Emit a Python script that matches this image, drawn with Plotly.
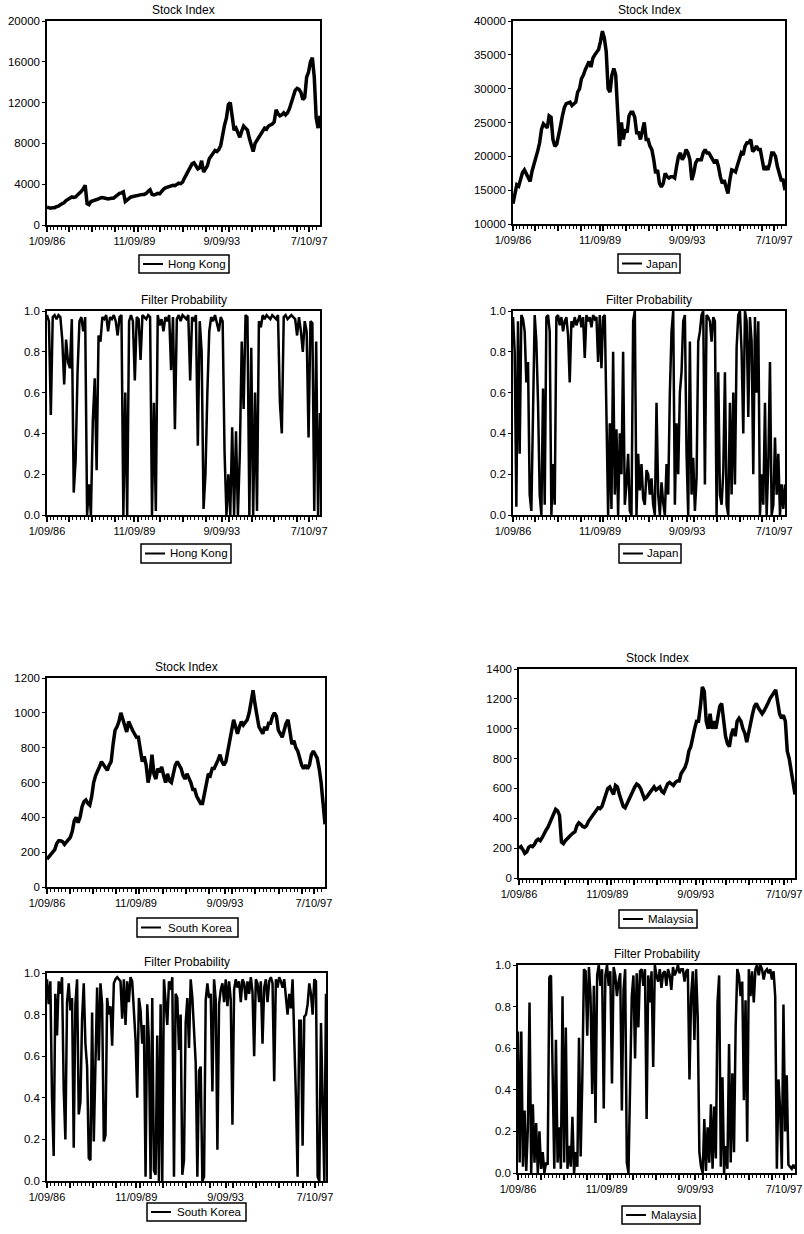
import plotly.graph_objects as go
import pandas as pd

START = "1986-01-09"
END = "1997-12-31"
W, H = 804, 1234

# ---------------- data ----------------
hong_kong_index = [
    1750, 1700, 1650, 1700, 1700, 1800, 1850, 2000, 2100, 2200, 2400, 2550,
    2600, 2750, 2700, 2750, 2950, 3100, 3300, 3550, 3900, 2100, 2000, 2300,
    2350, 2450, 2500, 2550, 2650, 2700, 2650, 2600, 2550, 2600, 2650, 2650,
    2800, 3000, 3100, 3150, 3250, 2300, 2500, 2600, 2750, 2800, 2850, 2900,
    2900, 2950, 3000, 3000, 3100, 3300, 3450, 3000, 2950, 3000, 3100, 3050,
    3300, 3500, 3650, 3700, 3750, 3800, 3900, 3850, 3950, 4100, 4050, 4200,
    4600, 5000, 5200, 5600, 6000, 6100, 5800, 5500, 5600, 6300, 5200, 5500,
    5800, 6500, 6800, 7000, 7300, 7200, 7400, 7800, 9000, 9800, 10500, 11800,
    12000, 10500, 9300, 9500, 9000, 8600, 9200, 9700, 9500, 9300, 8500, 7800,
    7200, 8000, 8300, 8600, 9000, 9300, 9500, 9400, 9700, 9800, 9900, 10100,
    11300, 10900, 10700, 10800, 11000, 10800, 11000, 11400, 12000, 12600, 13200, 13400,
    13300, 13000, 12300, 12500, 14500, 15000, 16000, 16400, 14500, 10500, 9500, 10700,
]

japan_index = [
    13000, 14500, 15800, 15600, 16800, 17600, 18000, 17500, 17000, 16300, 17800, 18700,
    19500, 20800, 22000, 24000, 24800, 24500, 24200, 26000, 25800, 22500, 21500, 21800,
    23500, 24500, 26000, 27200, 27800, 27900, 28000, 27500, 27700, 28000, 29500, 30000,
    31500, 32000, 32800, 33500, 34000, 33200, 34500, 35000, 35500, 35800, 37000, 38500,
    37500, 35500, 30000, 29500, 32000, 33000, 32000, 26000, 21500, 25000, 22500, 24000,
    23500, 26000, 26500, 26500, 25800, 23500, 23500, 22500, 24000, 25000, 22500, 22500,
    21500, 21000, 19500, 17500, 18000, 16000, 15500, 16000, 17500, 17000, 16800, 17000,
    17000, 16800, 18500, 20000, 20500, 19500, 20000, 21000, 20500, 19500, 16500, 17500,
    19000, 19500, 19500, 19500, 20500, 21000, 20500, 20500, 20000, 19500, 19000, 19500,
    18500, 17000, 16000, 16500, 15200, 14500, 16500, 18000, 17900, 17700, 18700, 19800,
    20500, 20200, 21500, 22000, 22000, 22500, 20700, 21000, 21500, 21000, 21000, 19500,
    18000, 18500, 18000, 19000, 20500, 20500, 20000, 18500, 17500, 16500, 16500, 15000,
]

south_korea_index = [
    160, 175, 190, 200, 215, 250, 265, 265, 260, 245, 260, 270,
    285, 320, 380, 400, 370, 400, 460, 490, 500, 480, 470, 520,
    600, 640, 660, 690, 720, 700, 690, 670, 700, 720, 820, 900,
    920, 950, 1000, 960, 920, 890, 950, 920, 900, 880, 860, 860,
    800, 720, 750, 700, 600, 650, 760, 650, 620, 680, 660, 690,
    640, 600, 650, 610, 600, 650, 700, 720, 700, 680, 640, 620,
    650, 630, 600, 560, 560, 520, 500, 480, 480, 530, 600, 650,
    640, 680, 680, 700, 730, 760, 720, 700, 720, 780, 850, 900,
    960, 920, 880, 920, 950, 930, 950, 960, 1000, 1080, 1130, 1050,
    970, 920, 900, 880, 920, 900, 940, 940, 980, 1000, 980, 900,
    880, 860, 900, 940, 960, 880, 820, 840, 800, 780, 740, 700,
    680, 700, 680, 700, 760, 780, 760, 740, 680, 600, 480, 360,
]

malaysia_index = [
    200, 210, 190, 165, 175, 205, 215, 210, 225, 250, 260, 250,
    270, 300, 320, 340, 370, 400, 420, 460, 450, 420, 240, 230,
    250, 265, 280, 290, 300, 310, 350, 370, 360, 345, 340, 350,
    380, 400, 420, 440, 455, 470, 465, 480, 520, 560, 600, 610,
    580, 560, 620, 610, 560, 510, 480, 470, 500, 520, 560, 590,
    610, 630, 620, 600, 560, 530, 540, 560, 580, 600, 610, 590,
    600, 610, 580, 570, 600, 630, 640, 630, 620, 640, 650, 650,
    700, 720, 740, 780, 850, 880, 950, 1000, 1050, 1050, 1150, 1280,
    1250, 1050, 1000, 1100, 1000, 1050, 1000, 1080, 1150, 1170, 1050, 950,
    900, 880, 960, 1000, 950, 1050, 1070, 1050, 1000, 970, 910, 980,
    1050, 1100, 1150, 1170, 1140, 1120, 1100, 1120, 1140, 1170, 1200, 1220,
    1240, 1260, 1180, 1100, 1070, 1090, 1050, 850, 800, 720, 650, 560,
]

hong_kong_prob = [
    0.98, 0.95, 0.49, 0.97, 0.98, 0.96, 0.98, 0.97, 0.86, 0.64, 0.86, 0.75,
    0.72, 0.96, 0.11, 0.27, 0.70, 0.95, 0.97, 0.90, 0.97, 0.00, 0.15, 0.00,
    0.46, 0.67, 0.22, 0.88, 0.85, 0.97, 0.96, 0.98, 0.90, 0.97, 0.96, 0.98,
    0.95, 0.88, 0.97, 0.98, 0.00, 0.60, 0.00, 0.95, 0.98, 0.95, 0.66, 0.97,
    0.96, 0.76, 0.98, 0.97, 0.96, 0.98, 0.97, 0.00, 0.55, 0.02, 0.98, 0.93,
    0.96, 0.90, 0.97, 0.95, 0.98, 0.71, 0.97, 0.42, 0.96, 0.98, 0.95, 0.98,
    0.97, 0.96, 0.98, 0.66, 0.97, 0.95, 0.98, 0.34, 0.95, 0.80, 0.03, 0.20,
    0.60, 0.90, 0.97, 0.95, 0.98, 0.94, 0.90, 0.97, 0.95, 0.31, 0.00, 0.20,
    0.00, 0.43, 0.00, 0.41, 0.00, 0.30, 0.85, 0.52, 0.98, 0.97, 0.00, 0.82,
    0.00, 0.60, 0.02, 0.95, 0.92, 0.98, 0.96, 0.98, 0.97, 0.96, 0.98, 0.97,
    0.96, 0.98, 0.55, 0.40, 0.97, 0.98, 0.96, 0.97, 0.98, 0.97, 0.96, 0.88,
    0.97, 0.90, 0.80, 0.95, 0.90, 0.38, 0.95, 0.94, 0.02, 0.85, 0.00, 0.50,
]

japan_prob = [
    0.97, 0.80, 0.04, 0.95, 0.30, 0.98, 0.96, 0.90, 0.65, 0.75, 0.10, 0.02,
    0.50, 0.98, 0.85, 0.55, 0.10, 0.00, 0.62, 0.05, 0.97, 0.98, 0.90, 0.00,
    0.25, 0.05, 0.97, 0.98, 0.93, 0.97, 0.90, 0.95, 0.97, 0.88, 0.65, 0.95,
    0.92, 0.97, 0.93, 0.96, 0.98, 0.92, 0.97, 0.77, 0.98, 0.95, 0.97, 0.92,
    0.98, 0.96, 0.97, 0.75, 0.98, 0.72, 0.97, 0.98, 0.50, 0.00, 0.45, 0.03,
    0.80, 0.10, 0.42, 0.00, 0.40, 0.20, 0.80, 0.05, 0.15, 0.30, 0.02, 0.00,
    0.95, 1.00, 0.00, 0.30, 0.12, 0.25, 0.08, 0.05, 0.22, 0.20, 0.10, 0.18,
    0.05, 0.00, 0.55, 0.10, 0.00, 0.16, 0.06, 0.00, 0.25, 0.10, 0.60, 0.90,
    1.00, 0.05, 0.45, 0.20, 0.60, 0.70, 0.95, 0.98, 0.30, 0.00, 0.85, 0.10,
    0.28, 0.02, 0.18, 0.85, 0.90, 0.98, 1.00, 0.15, 0.98, 0.97, 0.95, 0.85,
    0.97, 0.95, 0.00, 0.70, 0.10, 0.05, 0.21, 0.70, 0.05, 0.00, 0.55, 0.10,
    0.60, 0.15, 0.82, 0.98, 1.00, 0.80, 0.40, 1.00, 0.95, 0.48, 0.97, 0.85,
    0.20, 0.97, 0.60, 0.95, 0.00, 0.20, 0.05, 0.55, 0.00, 0.25, 0.75, 0.00,
    0.05, 0.38, 0.10, 0.30, 0.00, 0.15, 0.03, 0.15,
]

south_korea_prob = [
    0.97, 0.85, 0.96, 0.40, 0.12, 0.90, 0.70, 0.96, 0.90, 0.98, 0.44, 0.20,
    0.86, 0.95, 0.82, 0.88, 0.16, 0.85, 0.97, 0.32, 0.38, 0.78, 0.95, 0.66,
    0.55, 0.11, 0.10, 0.81, 0.19, 0.53, 0.93, 0.58, 0.95, 0.85, 0.19, 0.22,
    0.88, 0.80, 0.84, 0.65, 0.95, 0.97, 0.98, 0.97, 0.96, 0.78, 0.97, 0.75,
    0.96, 0.86, 0.98, 0.96, 0.80, 0.68, 0.40, 0.88, 0.82, 0.66, 0.75, 0.02,
    0.85, 0.67, 0.01, 0.88, 0.05, 0.03, 0.70, 0.00, 0.85, 0.00, 0.97, 0.85,
    0.75, 0.96, 0.92, 0.98, 0.02, 0.90, 0.88, 0.63, 0.80, 0.03, 0.10, 0.76,
    0.88, 0.64, 0.97, 0.88, 0.70, 0.57, 0.02, 0.53, 0.55, 0.00, 0.02, 0.87,
    0.95, 0.88, 0.90, 0.43, 0.97, 0.87, 0.15, 0.85, 0.92, 0.95, 0.86, 0.97,
    0.84, 0.96, 0.87, 0.27, 0.92, 0.97, 0.93, 0.96, 0.86, 0.97, 0.95, 0.87,
    0.96, 0.90, 0.98, 0.91, 0.60, 0.97, 0.95, 0.86, 0.96, 0.66, 0.93, 0.97,
    0.86, 0.96, 0.98, 0.95, 0.48, 0.97, 0.93, 0.98, 0.96, 0.93, 0.97, 0.88,
    0.80, 0.90, 0.83, 0.97, 0.70, 0.40, 0.02, 0.77, 0.77, 0.17, 0.79, 0.80,
    0.85, 0.95, 0.90, 0.80, 0.97, 0.96, 0.02, 0.00, 0.76, 0.35, 0.00, 0.90,
]

malaysia_prob = [
    0.68, 0.05, 0.68, 0.03, 0.30, 0.01, 0.22, 0.82, 0.00, 0.33, 0.05, 0.24,
    0.00, 0.20, 0.02, 0.10, 0.00, 0.05, 0.04, 0.94, 0.95, 0.38, 0.02, 0.64,
    0.05, 0.22, 0.02, 0.85, 0.05, 0.70, 0.02, 0.13, 0.03, 0.27, 0.00, 0.10,
    0.03, 0.65, 0.08, 0.45, 0.98, 0.97, 0.66, 0.99, 0.85, 0.38, 0.90, 0.24,
    0.95, 1.00, 0.90, 0.98, 0.31, 0.95, 1.00, 0.90, 0.97, 0.43, 0.99, 0.95,
    0.85, 0.92, 0.96, 0.30, 0.88, 0.98, 0.05, 0.00, 0.43, 0.85, 0.95, 0.55,
    0.96, 0.70, 0.97, 0.98, 0.90, 0.98, 0.26, 0.95, 0.82, 0.97, 0.51, 1.00,
    0.95, 0.92, 0.98, 0.89, 0.96, 0.97, 0.90, 0.98, 0.95, 0.88, 0.99, 0.95,
    0.97, 1.00, 0.96, 0.98, 0.98, 0.92, 0.97, 0.98, 0.45, 0.85, 0.97, 0.64,
    0.98, 0.75, 0.10, 0.03, 0.00, 0.26, 0.01, 0.22, 0.05, 0.33, 0.02, 0.32,
    0.07, 0.82, 0.95, 0.03, 0.46, 0.00, 0.13, 0.02, 0.62, 0.05, 0.48, 0.10,
    0.70, 0.98, 0.95, 0.85, 0.92, 0.35, 0.83, 0.15, 0.98, 0.85, 0.97, 0.82,
    0.98, 1.00, 0.95, 1.00, 0.98, 0.93, 0.97, 0.98, 0.96, 0.98, 0.93, 0.97,
    0.85, 0.02, 0.45, 0.30, 0.02, 0.81, 0.20, 0.47, 0.04, 0.03, 0.02, 0.04,
    0.02,
]

tick_dates = ["1986-01-09", "1989-11-09", "1993-09-09", "1997-07-10"]
tick_labels = ["1/09/86", "11/09/89", "9/09/93", "7/10/97"]
year_ticks = [f"{y}-01-01" for y in range(1987, 1998)]

# ---------------- panel layout (page pixels) ----------------
panels = [
    dict(values=hong_kong_index, name="Hong Kong", title="Stock Index",
         box=(47, 320, 21, 225), yr=[0, 20000], dt=4000, fmt="d",
         leg=(139, 229, 255, 273), lw=3.5),
    dict(values=japan_index, name="Japan", title="Stock Index",
         box=(513, 785, 21, 224), yr=[10000, 40000], dt=5000, fmt="d",
         leg=(618, 680, 254, 273), lw=3.5),
    dict(values=hong_kong_prob, name="Hong Kong", title="Filter Probability",
         box=(47, 320, 311, 515), yr=[0, 1], dt=0.2, fmt=".1f",
         leg=(141, 231, 544, 563), lw=2.5),
    dict(values=japan_prob, name="Japan", title="Filter Probability",
         box=(513, 785, 311, 515), yr=[0, 1], dt=0.2, fmt=".1f",
         leg=(619, 681, 544, 563), lw=2.5),
    dict(values=south_korea_index, name="South Korea", title="Stock Index",
         box=(47, 325, 678, 887), yr=[0, 1200], dt=200, fmt="d",
         leg=(137, 238, 918, 937), lw=3.5),
    dict(values=malaysia_index, name="Malaysia", title="Stock Index",
         box=(519, 795, 669, 878), yr=[0, 1400], dt=200, fmt="d",
         leg=(619, 697, 910, 928), lw=3.5),
    dict(values=south_korea_prob, name="South Korea", title="Filter Probability",
         box=(47, 326, 973, 1181), yr=[0, 1], dt=0.2, fmt=".1f",
         leg=(147, 246, 1203, 1221), lw=2.5),
    dict(values=malaysia_prob, name="Malaysia", title="Filter Probability",
         box=(518, 795, 965, 1173), yr=[0, 1], dt=0.2, fmt=".1f",
         leg=(622, 700, 1206, 1224), lw=2.5),
]


def px(xp):
    return xp / W


def py(yp):
    return 1 - yp / H


FONT = "Liberation Sans, Arial, sans-serif"
fig = go.Figure()
layout = {}
annotations = []
shapes = []

for i, p in enumerate(panels, start=1):
    sfx = "" if i == 1 else str(i)
    n = len(p["values"])
    dates = pd.date_range(START, END, periods=n)
    fig.add_trace(go.Scatter(
        x=dates, y=p["values"], mode="lines", name=p["name"],
        line=dict(color="black", width=p["lw"]),
        xaxis=f"x{sfx}", yaxis=f"y{sfx}", showlegend=False,
    ))
    x0, x1, y0, y1 = p["box"]
    layout[f"xaxis{sfx}"] = dict(
        domain=[px(x0), px(x1)], anchor=f"y{sfx}", type="date",
        range=[START, END], automargin=False, ticklabeloverflow="allow",
        tickmode="array", tickvals=tick_dates + year_ticks,
        ticktext=tick_labels + [""] * len(year_ticks),
        ticks="outside", ticklen=5, tickwidth=1.5, tickcolor="black",
        minor=dict(ticks="outside", ticklen=3, dtick="M2", tick0="1986-01-01",
                   tickcolor="black", tickwidth=1, showgrid=False),
        showline=True, mirror=True, linecolor="black", linewidth=1.5,
        showgrid=False, zeroline=False,
        tickfont=dict(size=11, color="black", family=FONT),
        fixedrange=True,
    )
    layout[f"yaxis{sfx}"] = dict(
        domain=[py(y1), py(y0)], anchor=f"x{sfx}",
        range=p["yr"], dtick=p["dt"], tick0=0, tickformat=p["fmt"],
        automargin=False, ticklabeloverflow="allow",
        ticks="outside", ticklen=3, tickwidth=1, tickcolor="black",
        showline=True, mirror=True, linecolor="black", linewidth=1.5,
        showgrid=False, zeroline=False,
        tickfont=dict(size=11.5, color="black", family=FONT),
        fixedrange=True,
    )
    # title above each panel
    annotations.append(dict(
        x=px((x0 + x1) / 2), y=py(y0 - 2), xref="paper", yref="paper",
        text=p["title"], showarrow=False, xanchor="center", yanchor="bottom",
        font=dict(size=12, color="black", family=FONT),
    ))
    # legend box with line sample and series name
    lx0, lx1, ly0, ly1 = p["leg"]
    lyc = (ly0 + ly1) / 2
    shapes.append(dict(type="rect", xref="paper", yref="paper",
                       x0=px(lx0), x1=px(lx1), y0=py(ly1), y1=py(ly0),
                       line=dict(color="black", width=1.5), fillcolor="white",
                       layer="below"))
    shapes.append(dict(type="line", xref="paper", yref="paper",
                       x0=px(lx0 + 4), x1=px(lx0 + 24), y0=py(lyc), y1=py(lyc),
                       line=dict(color="black", width=2)))
    annotations.append(dict(
        x=px((lx0 + 25 + lx1) / 2), y=py(lyc), xref="paper", yref="paper",
        text=p["name"], showarrow=False, xanchor="center", yanchor="middle",
        borderpad=0,
        font=dict(size=11.5, color="black", family=FONT),
    ))

fig.update_layout(
    width=W, height=H,
    margin=dict(l=0, r=0, t=0, b=0, autoexpand=False),
    paper_bgcolor="white", plot_bgcolor="white",
    showlegend=False,
    annotations=annotations,
    shapes=shapes,
    **layout,
)

fig.write_html(
    "out.html",
    config={"displayModeBar": False},
    post_script="document.body.style.margin='0';document.body.style.overflow='hidden';",
)
